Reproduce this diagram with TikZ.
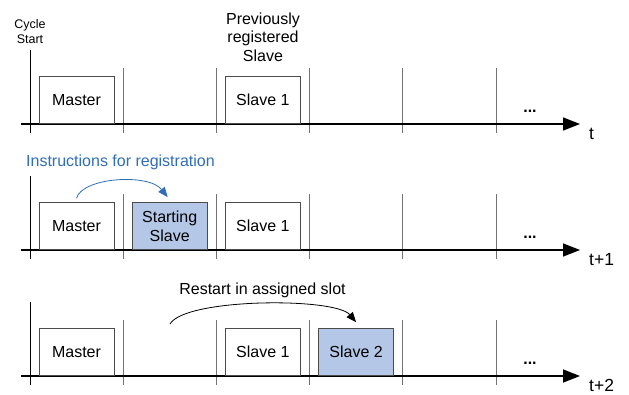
\documentclass[tikz,border=0pt]{standalone}
\usepackage{fontspec}
\setmainfont{Liberation Sans}
\usetikzlibrary{arrows.meta}
\definecolor{slotblue}{HTML}{B4C7E7}
\definecolor{instrblue}{HTML}{2F6EB5}

\begin{document}
\begin{tikzpicture}[x=1pt,y=-1pt,
  slot/.style={draw=black!70,fill=white,line width=0.8pt,minimum width=75pt,minimum height=47pt,inner sep=0pt,anchor=south,align=center,font=\fontsize{16}{19}\selectfont},
  newslot/.style={slot,fill=slotblue},
  tick/.style={draw=black!55,line width=0.9pt},
  axis/.style={line width=1.6pt,-{Triangle[length=17pt,width=13pt]}},
  txt/.style={inner sep=0pt,align=center,font=\fontsize{16}{18.5}\selectfont}]
  \useasboundingbox (0,0) rectangle (629,394);

  % three time lines
  \foreach \y/\tname in {124/t,250/t+1,376/t+2}{
    \draw[line width=0.8pt] (30,\y-74) -- (30,\y+9);
    \foreach \i in {1,...,5} \draw[tick] (30+93.2*\i,\y-56) -- (30+93.2*\i,\y+9);
    \coordinate (a\y) at (21,\y);
    \coordinate (e\y) at (580,\y);
    \draw[axis] (a\y) -- (e\y);
    \node[txt,anchor=base] (d\y) at (530,\y-12) {\textbf{...}};
    \node[txt,anchor=base west,font=\fontsize{17.5}{20}\selectfont] (t\y) at (589,\y+15) {\tname};
  }

  \node[txt,font=\fontsize{12.5}{15}\selectfont] (cs) at (30,32) {Cycle\\Start};
  \node[txt] (prev) at (263,37) {Previously\\registered\\Slave};

  % cycle t
  \node[slot] (m1) at (76.5,124) {Master};
  \node[slot] (sa1) at (262.9,124) {Slave 1};

  % cycle t+1
  \node[slot] (m2) at (76.5,250) {Master};
  \node[newslot] (st2) at (169.7,250) {Starting\\Slave};
  \node[slot] (sa2) at (262.9,250) {Slave 1};
  \node[txt,text=instrblue,anchor=west] (instr) at (26,162) {Instructions for registration};
  \draw[instrblue,line width=0.8pt,-{Triangle[length=10pt,width=8pt]}] ([yshift=4pt]m2.north) .. controls +(6,-21) and +(-19,-24) .. ([xshift=-2pt,yshift=5pt]st2.north);

  % cycle t+2
  \node[slot] (m3) at (76.5,376) {Master};
  \node[slot] (sa3) at (262.9,376) {Slave 1};
  \node[newslot] (sb3) at (356.1,376) {Slave 2};
  \node[txt] (restart) at (262.5,290) {Restart in assigned slot};
  \coordinate (r0) at (170,324);
  \draw[line width=0.8pt,-{Triangle[length=10pt,width=8pt]}] (r0) .. controls +(15,-26) and +(-21,-25) .. ([yshift=6pt]sb3.north);
\end{tikzpicture}
\end{document}
